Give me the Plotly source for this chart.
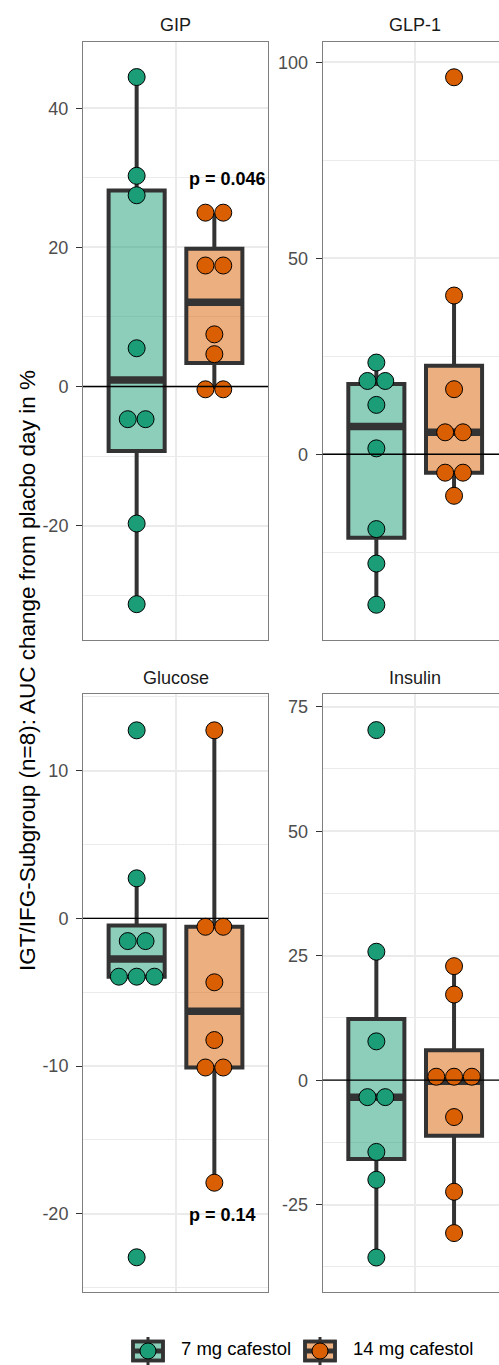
import numpy as np
import plotly.graph_objects as go

# ---------------- data ----------------
panels = ["GIP", "GLP-1", "Glucose", "Insulin"]
groups = ["7 mg cafestol", "14 mg cafestol"]

gip_7mg = [44.5, 30.3, 27.5, 5.5, -3.6, -5.8, -19.7, -31.3]
gip_14mg = [25.0, 25.0, 18.1, 16.7, 7.5, 4.65, -0.4, -0.4]
glp1_7mg = [23.4, 20.2, 17.2, 12.6, 1.5, -19.1, -27.9, -38.4]
glp1_14mg = [96.2, 40.5, 16.6, 5.6, 5.6, -4.7, -4.7, -10.6]
glucose_7mg = [12.73, 2.71, -1.54, -1.54, -3.95, -3.95, -3.95, -22.95]
glucose_14mg = [12.73, -0.57, -0.57, -4.33, -8.24, -10.1, -10.1, -17.9]
insulin_7mg = [70.3, 25.8, 7.8, -3.4, -3.4, -14.4, -20.0, -35.6]
insulin_14mg = [22.9, 17.2, 2.3, 0.5, -0.9, -7.4, -22.4, -30.7]

p_labels = ["p = 0.046", "", "p = 0.14", ""]
p_label_y = [29.8, None, -20.1, None]
y_tick_values = [[-20, 0, 20, 40], [0, 50, 100], [-20, -10, 0, 10], [-25, 0, 25, 50, 75]]
y_tick_labels = [["-20", "0", "20", "40"], ["0", "50", "100"],
                 ["-20", "-10", "0", "10"], ["-25", "0", "25", "50", "75"]]

y_axis_title = "IGT/IFG-Subgroup (n=8): AUC change from placbo day in %"

data = [
    [gip_7mg, gip_14mg],
    [glp1_7mg, glp1_14mg],
    [glucose_7mg, glucose_14mg],
    [insulin_7mg, insulin_14mg],
]

# ---------------- layout / style ----------------
W, H = 499, 1365
FONT = "Liberation Sans, Arial, Helvetica, sans-serif"
DOT_COLORS = ["#1B9E77", "#D95F02"]
BOX_FILLS = ["rgba(27,158,119,0.5)", "rgba(217,95,2,0.5)"]
DARK = "#333333"
GRID = "#EBEBEB"
BORDER = "#7F7F7F"

PANEL_W = 185.0
col_x0 = [83.0, 322.7]
row_y = [(42.0, 640.0), (694.3, 1292.3)]
y_ranges = [[-36.45, 49.54], [-47.4, 105.2], [-25.32, 15.17], [-42.59, 77.49]]

X_CENTERS = [0.29, 0.71]
BOX_W = 0.303
DOT_PX = 17.8
DOT_W = DOT_PX / PANEL_W


def px_x(px):
    return px / W


def px_y(py):
    return 1 - py / H


def dot_positions(vals, bw):
    s = sorted(vals)
    bins = []
    end = -np.inf
    for v in s:
        if v >= end:
            bins.append([v])
            end = v + bw
        else:
            bins[-1].append(v)
    ys, offs = [], []
    for b in bins:
        c = (min(b) + max(b)) / 2
        n = len(b)
        for i in range(n):
            ys.append(c)
            offs.append(i - (n - 1) / 2)
    return np.array(ys), np.array(offs)


def box_stats(vals):
    a = np.asarray(vals, dtype=float)
    q1, med, q3 = np.percentile(a, [25, 50, 75])
    iqr = q3 - q1
    lo = a[a >= q1 - 1.5 * iqr].min()
    hi = a[a <= q3 + 1.5 * iqr].max()
    return q1, med, q3, lo, hi


fig = go.Figure()
shapes = []
annotations = []
layout_axes = {}

for i, name in enumerate(panels):
    r, c = divmod(i, 2)
    k = "" if i == 0 else str(i + 1)
    xa, ya = "x" + k, "y" + k
    x0 = col_x0[c]
    x_end_px = min(x0 + PANEL_W, W)
    xr = [0, (x_end_px - x0) / PANEL_W]
    top, bot = row_y[r]

    allv = np.concatenate([np.asarray(v, float) for v in data[i]])
    bw = (allv.max() - allv.min()) / 30.0

    for j in range(2):
        vals = data[i][j]
        q1, med, q3, lo, hi = box_stats(vals)
        xc = X_CENTERS[j]
        fig.add_trace(go.Box(
            x=[xc], q1=[q1], median=[med], q3=[q3], lowerfence=[lo], upperfence=[hi],
            width=BOX_W, fillcolor=BOX_FILLS[j], line=dict(color=DARK, width=4),
            whiskerwidth=0, boxpoints=False, xaxis=xa, yaxis=ya,
            showlegend=False, hoverinfo="skip"))
        fig.add_trace(go.Scatter(
            x=[xc - BOX_W / 2, xc + BOX_W / 2], y=[med, med], mode="lines",
            line=dict(color=DARK, width=7.5), xaxis=xa, yaxis=ya,
            showlegend=False, hoverinfo="skip"))
    for j in range(2):
        ys, offs = dot_positions(data[i][j], bw)
        fig.add_trace(go.Scatter(
            x=X_CENTERS[j] + offs * DOT_W, y=ys, mode="markers",
            marker=dict(size=17, color=DOT_COLORS[j], line=dict(color="black", width=1)),
            xaxis=xa, yaxis=ya, showlegend=False, hoverinfo="skip", name=groups[j]))

    ticks = y_tick_values[i]
    step = ticks[1] - ticks[0]
    yr = y_ranges[i]
    minors = [t for t in np.arange(ticks[0] - 3 * step - step / 2, yr[1], step) if yr[0] < t < yr[1]]

    layout_axes["xaxis" + k] = dict(
        domain=[px_x(x0), px_x(x_end_px)], range=xr, anchor=ya,
        showgrid=True, gridcolor=GRID, gridwidth=1.8, tickvals=[0.5],
        showticklabels=False, ticks="", zeroline=False,
        showline=True, linecolor=BORDER, linewidth=1, mirror=True, fixedrange=True)
    layout_axes["yaxis" + k] = dict(
        domain=[px_y(bot), px_y(top)], range=yr, anchor=xa,
        tickvals=ticks, ticktext=y_tick_labels[i],
        ticks="outside", ticklen=6, tickwidth=1.1, tickcolor=DARK,
        tickfont=dict(size=18, color="#4D4D4D", family=FONT), ticklabelstandoff=4,
        showgrid=True, gridcolor=GRID, gridwidth=1.8,
        minor=dict(tickvals=minors, showgrid=True, gridcolor=GRID, gridwidth=1, ticks=""),
        zeroline=False, showline=True, linecolor=BORDER, linewidth=1,
        mirror=(c == 0), fixedrange=True)

    shapes.append(dict(type="line", xref=xa + " domain", yref=ya, x0=0, x1=1, y0=0, y1=0,
                       line=dict(color="black", width=1.3), layer="above"))

    strip_y = 24.5 if r == 0 else 677.5
    annotations.append(dict(text=name, xref="paper", yref="paper",
                            x=px_x(x0 + PANEL_W / 2), y=px_y(strip_y),
                            xanchor="center", yanchor="middle", showarrow=False,
                            font=dict(size=18, color="#1A1A1A", family=FONT)))
    if p_labels[i]:
        annotations.append(dict(text="<b>" + p_labels[i] + "</b>", xref=xa, yref=ya,
                                x=0.562, y=p_label_y[i], xanchor="left", yanchor="middle",
                                showarrow=False, font=dict(size=18, color="black", family=FONT)))

annotations.append(dict(text=y_axis_title, xref="paper", yref="paper",
                        x=px_x(27), y=px_y(671), textangle=-90,
                        xanchor="center", yanchor="middle", showarrow=False,
                        font=dict(size=22.5, color="black", family=FONT)))

# ---------------- manual legend ----------------
key_x = [131.5, 303.5]
key_cy = 1351
for j in range(2):
    kx = key_x[j]
    cx = kx + 16.5
    shapes.append(dict(type="line", xref="paper", yref="paper",
                       x0=px_x(cx), x1=px_x(cx), y0=px_y(1337), y1=px_y(1365),
                       line=dict(color=DARK, width=3)))
    shapes.append(dict(type="rect", xref="paper", yref="paper",
                       x0=px_x(kx + 1.5), x1=px_x(kx + 31.5), y0=px_y(key_cy - 9.5), y1=px_y(key_cy + 9.5),
                       fillcolor=BOX_FILLS[j], line=dict(color=DARK, width=3.5)))
    shapes.append(dict(type="rect", xref="paper", yref="paper",
                       x0=px_x(kx + 1.5), x1=px_x(kx + 31.5), y0=px_y(key_cy - 9.5), y1=px_y(key_cy + 9.5),
                       fillcolor="rgba(0,0,0,0)", line=dict(color=DARK, width=3.5)))
    shapes.append(dict(type="line", xref="paper", yref="paper",
                       x0=px_x(kx + 1.5), x1=px_x(kx + 31.5), y0=px_y(key_cy), y1=px_y(key_cy),
                       line=dict(color=DARK, width=5)))
    shapes.append(dict(type="circle", xref="paper", yref="paper",
                       xsizemode="pixel", ysizemode="pixel",
                       xanchor=px_x(cx), yanchor=px_y(key_cy),
                       x0=-8, x1=8, y0=-8, y1=8,
                       fillcolor=DOT_COLORS[j], line=dict(color="black", width=1)))
    annotations.append(dict(text=groups[j], xref="paper", yref="paper",
                            x=px_x(kx + 47), y=px_y(1348.5), xanchor="left", yanchor="middle",
                            showarrow=False, font=dict(size=18.5, color="black", family=FONT)))

fig.update_layout(
    width=W, height=H, margin=dict(l=0, r=0, t=0, b=0, pad=0),
    paper_bgcolor="white", plot_bgcolor="white",
    showlegend=False, shapes=shapes, annotations=annotations,
    font=dict(family=FONT), boxmode="overlay",
    **layout_axes)

fig.write_html("out.html")
